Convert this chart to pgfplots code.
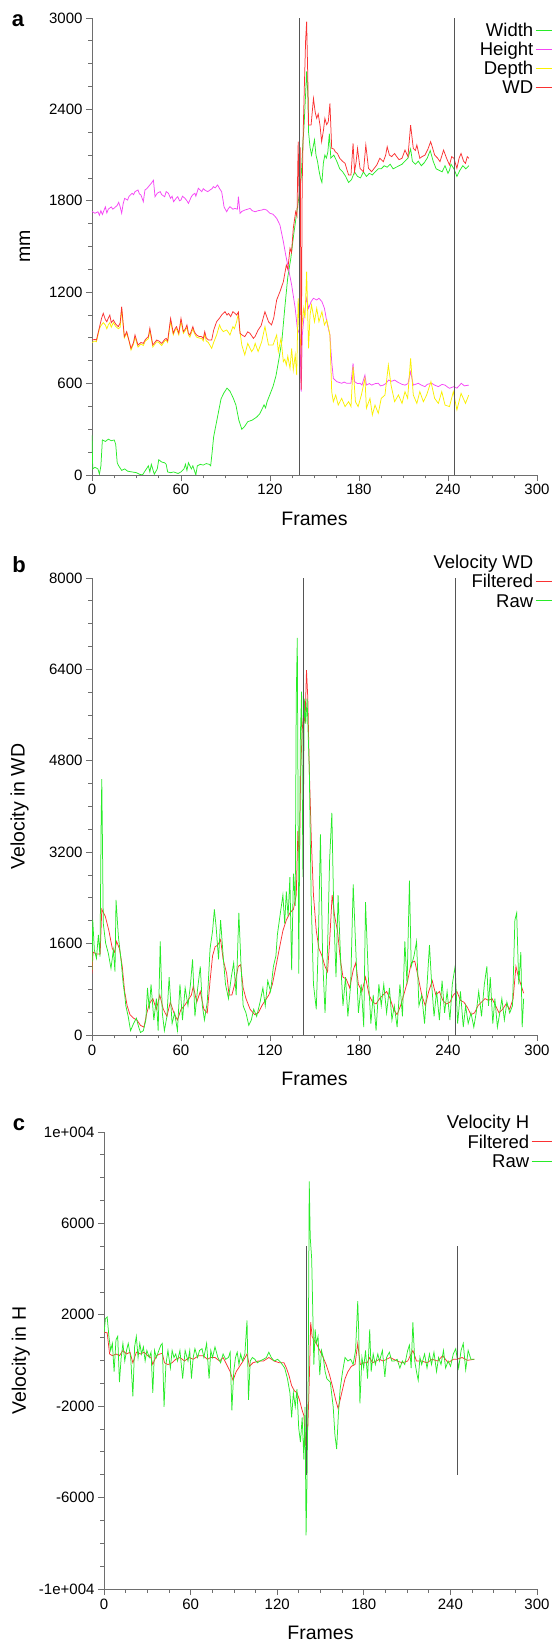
\documentclass[border=0pt]{standalone}
\usepackage{fontspec}
\setmainfont{Liberation Sans}
\usepackage{pgfplots}
\pgfplotsset{compat=1.18}
\definecolor{cW}{RGB}{40,235,40}
\definecolor{cH}{RGB}{245,70,245}
\definecolor{cD}{RGB}{250,240,0}
\definecolor{cWD}{RGB}{250,50,50}
\definecolor{axgray}{RGB}{110,110,110}
\definecolor{vline}{RGB}{85,85,85}
\newcommand{\labfont}{\fontsize{19.5}{20}\selectfont}
\pgfplotsset{
 common/.style={
  scale only axis, height=457pt,
  axis lines=left, axis line style={-, draw=axgray, line width=0.8pt},
  tick align=outside, xtick pos=left, ytick pos=left,
  major tick length=6pt, minor tick length=3.5pt,
  every tick/.style={draw=axgray, line width=0.8pt},
  minor x tick num=3, minor y tick num=3,
  scaled x ticks=false, scaled y ticks=false,
  xmin=0, xmax=300, xtick={0,60,120,180,240,300},
  xticklabels={0,60,120,180,240,300},
  tick label style={font=\fontsize{15}{15}\selectfont, text=black},
  xlabel={Frames},
  every axis x label/.style={at={(axis description cs:0.5,-0.096)}, anchor=center, font=\labfont},
  legend plot pos=right, legend cell align=right,
  legend style={draw=none, fill=none, inner sep=0pt, outer sep=0pt, column sep=2pt,
    font=\fontsize{18.5}{19}\selectfont,
    nodes={inner sep=0pt, text height=13.2pt, text depth=0pt}},
  every axis plot/.append style={line width=0.75pt},
 }
}
\begin{document}
\begin{tikzpicture}
\useasboundingbox (0pt,0pt) rectangle (552pt,1642pt);
% ---------------- panel a ----------------
\begin{axis}[common, width=445pt, at={(92pt,1167pt)}, anchor=south west,
  ymin=0, ymax=3000, ytick={0,600,1200,1800,2400,3000},
  yticklabels={0,600,1200,1800,2400,3000},
  ylabel={mm},
  every axis y label/.style={at={(axis description cs:-0.151,0.5)}, anchor=center, rotate=90, font=\labfont},
  legend style={at={(1.0337,0.9882)}, anchor=north east, row sep=5.8pt},
  legend image code/.code={\draw[#1] (0pt,0pt) -- (16pt,0pt);}]
\addplot[cW] coordinates {(0,260) (0.5,40) (2,50) (4,40) (5,5) (6,60) (7,230) (9,220) (11,235) (13,225) (15,230) (16,200) (17,80) (18,60) (20,30) (22,40) (24,25) (27,20) (30,15) (32,5) (34,0) (36,30) (38,60) (39,20) (40,70) (42,5) (44,40) (45,100) (47,85) (49,80) (50,70) (51,20) (53,15) (55,20) (58,10) (60,20) (62,40) (63,70) (64,30) (65,80) (67,40) (68,60) (70,0) (71,60) (73,70) (75,65) (77,75) (79,70) (80,60) (81,150) (82,250) (83,300) (85,400) (87,500) (89,540) (91,570) (93,550) (95,510) (97,460) (99,360) (101,300) (103,320) (105,350) (108,360) (111,380) (113,400) (115,440) (116,460) (117,440) (118,480) (120,530) (122,580) (124,650) (126,760) (128,880) (130,1100) (132,1300) (134,1420) (136,1580) (138,1720) (140,1860) (141,1950) (142,2150) (143,2300) (144,2500) (144.7,2650) (145.5,2500) (146,2250) (147,2150) (148,2100) (149,2150) (150,2200) (151,2100) (152,2060) (153,2000) (154,1950) (155,1920) (156,2050) (157,2100) (158,2080) (159,2120) (160,2240) (161,2080) (163,2100) (165,2060) (167,2010) (169,1990) (171,1960) (173,1920) (175,1940) (177,1990) (179,1960) (181,1950) (183,1990) (185,1960) (187,1980) (189,1970) (191,1990) (193,2010) (195,2010) (197,2030) (199,2020) (201,2040) (203,2010) (205,2020) (207,2030) (209,2040) (211,2060) (213,2080) (214.8,2140) (216,2060) (218,2040) (220,2060) (222,2030) (224,2050) (226,2080) (228,2130) (230,2060) (232,2010) (234,2000) (236,1990) (238,2030) (240,1980) (241,2000) (242,2040) (244,2010) (246,1960) (248,2000) (250,2030) (252,2010) (254,2030)};
\addlegendentry{Width}
\addplot[cH] coordinates {(0,1730) (2,1718) (4,1728) (5,1705) (6,1735) (7,1710) (9,1760) (10,1720) (11,1745) (13,1760) (14,1745) (15,1752) (17,1770) (18,1790) (19,1760) (20,1718) (21,1780) (22,1816) (24,1805) (25,1830) (27,1849) (28,1840) (29,1860) (31,1871) (32,1845) (33,1838) (34.6,1794) (35.7,1871) (37,1880) (39,1904) (40,1915) (41.4,1935) (42.5,1827) (44,1850) (46,1860) (47,1840) (49,1827) (50,1860) (51.5,1849) (53,1816) (54,1830) (55,1794) (57,1820) (57.8,1827) (59,1800) (60,1805) (61,1830) (62.7,1816) (64,1800) (65,1783) (67,1827) (68,1840) (69.4,1849) (70,1830) (71.7,1882) (73,1870) (74,1860) (75,1880) (76,1871) (78,1860) (79.6,1871) (81,1880) (81.8,1893) (83,1885) (84.7,1904) (86,1880) (87.4,1860) (88.5,1794) (89,1760) (90.8,1728) (92,1750) (93,1761) (95,1745) (96.4,1750) (98,1745) (98.7,1827) (99.8,1718) (101,1730) (103,1739) (105,1745) (106.5,1750) (108,1735) (110,1728) (112,1735) (114.4,1739) (116,1745) (117.8,1739) (120,1718) (122,1712) (124.5,1685) (126.7,1641) (129,1532) (130.6,1444) (132.4,1357) (134.6,1247) (137,1094) (138.4,963) (140.2,919) (141,547) (141.8,919) (143,1050) (144.7,1160) (146,1094) (147.7,1138) (149.3,1160) (151.5,1149) (153,1160) (155,1138) (156.7,1094) (158.3,1006) (160.4,919) (161.6,744) (162.7,634) (165,613) (168.3,602) (170,610) (171.7,602) (174.6,602) (176,733) (177,613) (179,600) (180.7,602) (182,590) (184,656) (185,590) (187,600) (188.5,590) (191,600) (193,602) (194.5,585) (196.4,590) (198,600) (200,623) (202,615) (204,623) (206,610) (207.6,602) (209,595) (211,590) (213,600) (214.8,678) (216.6,590) (218,595) (220,602) (222,590) (224.5,580) (226,595) (229,602) (231,590) (233.5,580) (236,595) (238,590) (240,575) (241,569) (242.5,575) (244,580) (246,570) (249,602) (251,585) (254,590)};
\addlegendentry{Height}
\addplot[cD] coordinates {(0,870) (2,880) (3,875) (5,960) (6,980) (7.6,1000) (9,985) (10,960) (11,985) (12,1000) (13,970) (14.4,1000) (16,975) (17.8,960) (19,970) (20,1090) (21.8,900) (23.4,930) (25,880) (26.3,820) (28,860) (29,905) (31,840) (33,860) (34.6,850) (36,880) (38,895) (39,950) (41,840) (43.6,875) (45,870) (47,850) (49,880) (50,885) (51,870) (53,1010) (54.8,920) (56,950) (57,960) (58.5,920) (60,1010) (61.6,930) (63,950) (64,970) (65,920) (66,905) (68,960) (69,930) (70.5,905) (72,900) (74,895) (75,880) (76,925) (77,880) (78.4,870) (80.7,831) (82,870) (84,919) (86,985) (87,960) (88.5,941) (90.8,952) (92,935) (93,919) (95,974) (96,960) (97.5,1006) (98.7,1061) (99.5,960) (101,853) (103,788) (105,864) (107.6,810) (109,830) (110,864) (112,810) (114.4,875) (116.6,974) (119,853) (122,853) (124.5,919) (125.6,810) (127.4,897) (129,744) (130,760) (131,722) (132,780) (133.5,700) (134.6,831) (135.7,689) (137,788) (138,656) (139,1160) (140.2,831) (141.3,941) (142.5,1094) (143.6,1028) (144.7,1335) (146,831) (147,1050) (148,1116) (150,1006) (151.5,1094) (153,1006) (155,1072) (156.7,985) (158.3,1017) (160.4,919) (161.6,547) (162.7,481) (164.3,525) (166,459) (168.3,503) (170.6,449) (173,481) (174.6,449) (176,711) (177.6,481) (179.4,449) (181.6,525) (184,634) (185,438) (187.4,503) (189,394) (190.8,459) (193,405) (195,503) (197.5,525) (199.8,722) (201.6,590) (204,481) (206.6,525) (209,470) (211,547) (212.8,503) (214.8,766) (216.6,525) (219,470) (221,547) (223.4,481) (225.6,525) (228.5,613) (231,503) (233.5,470) (235.8,547) (238,459) (241,449) (243.6,547) (246,427) (248.8,536) (251.8,470) (254,525)};
\addlegendentry{Depth}
\addplot[cWD] coordinates {(0,886) (2,890) (3,886) (5.4,985) (6.5,1030) (7.6,1061) (9,1020) (10,1006) (11,1030) (12,1050) (13,1000) (14.4,1017) (16,990) (17.8,974) (19,1000) (20,1105) (21.8,908) (23.4,941) (25,880) (26.3,831) (28,870) (29,919) (31,853) (33,870) (34.6,864) (36,890) (38,908) (39,963) (41,853) (43.6,886) (45,880) (47,864) (49,890) (50,897) (51,880) (53,1028) (54.8,930) (56,960) (57,974) (58.5,930) (60,1028) (61.6,941) (63,960) (64,985) (65,930) (66,919) (68,974) (69,940) (70.5,919) (72,910) (74,908) (75,895) (76,941) (77,900) (78.4,886) (80.7,886) (82,950) (84,1006) (86,1030) (87.4,1050) (89.7,1072) (91,1050) (92,1061) (93.5,1040) (95,1072) (96.5,1060) (97.5,1050) (98.7,1070) (99.8,930) (101,920) (103,908) (105,940) (106.5,930) (108.8,897) (110,910) (112,952) (114,980) (116.6,1072) (119,1006) (121,985) (122.5,1030) (124.5,1149) (126.7,1203) (129,1269) (131,1378) (132,1350) (133.5,1488) (134.5,1460) (135.7,1619) (137.3,1728) (138.2,1700) (139,2188) (139.7,1750) (140.4,2150) (141,560) (141.7,1900) (142.5,2300) (143.3,2600) (144,2850) (144.7,2976) (145.5,2600) (146,2297) (147.7,2297) (149.3,2472) (150.5,2380) (151.5,2341) (152.5,2370) (153.7,2297) (154.8,2188) (156,2260) (157,2341) (158.2,2300) (159.3,2319) (160.4,2439) (161.6,2144) (163,2140) (164,2122) (165.5,2110) (167,2079) (168.8,2060) (170.6,2046) (172,2000) (173,1969) (174.6,1969) (176,2177) (177,1991) (178,2050) (179,2144) (180.7,2013) (182,2000) (183,1991) (184.6,2166) (186.4,2013) (188.5,1991) (190,2010) (192,2035) (194,2079) (196.4,2057) (198,2100) (199,2155) (200.5,2100) (202,2090) (204,2110) (205.4,2090) (207,2070) (209,2079) (211,2133) (213,2090) (214.8,2297) (216.6,2144) (218,2130) (219,2166) (221,2079) (222.5,2090) (224.5,2100) (226.5,2140) (228.3,2188) (229.5,2150) (231,2100) (233,2080) (234.6,2057) (236,2100) (237,2133) (239,2080) (241,2035) (242.5,2090) (244,2079) (246,2013) (247.5,2080) (248.8,2111) (250.5,2060) (251.8,2046) (253,2090) (254,2079)};
\addlegendentry{WD}
\addplot[vline, line width=0.8pt, forget plot] coordinates {(140,0) (140,3000)};
\addplot[vline, line width=0.8pt, forget plot] coordinates {(244,0) (244,3000)};
\end{axis}
% ---------------- panel b ----------------
\begin{axis}[common, width=445pt, at={(92pt,607pt)}, anchor=south west,
  ymin=0, ymax=8000, ytick={0,1600,3200,4800,6400,8000},
  yticklabels={0,1600,3200,4800,6400,8000},
  ylabel={Velocity in WD},
  every axis y label/.style={at={(axis description cs:-0.163,0.5)}, anchor=center, rotate=90, font=\labfont},
  legend style={at={(1.0337,1.0506)}, anchor=north east, row sep=6.3pt},
  legend image code/.code={\draw[#1] (0pt,0pt) -- (16pt,0pt);}]
\addlegendimage{empty legend}
\addlegendentry{Velocity WD}
\addplot[cWD] coordinates {(0,1075) (0.7,1450) (3,1419) (5.5,1419) (6.6,2200) (9,2075) (11.4,1825) (13.7,1512) (15.2,1450) (16.6,1637) (18.5,1512) (20.4,1200) (22,762) (23.7,512) (25.6,356) (28,294) (30.3,262) (32.7,169) (35,137) (37,387) (38.6,544) (41,637) (43.4,450) (45.7,700) (48.1,450) (50.5,325) (52.8,575) (55.2,387) (57.6,262) (60,450) (62.3,512) (64.7,606) (67,700) (68.3,856) (70.6,575) (73,762) (75.4,450) (77.7,387) (79.6,950) (81.3,1387) (83,1544) (84.8,1575) (86.7,1669) (88.4,1325) (90.8,1075) (92.4,700) (94.3,700) (96.2,887) (98.6,1200) (100.2,1231) (101.9,825) (103.8,637) (106.6,450) (109.7,356) (112.1,387) (114.5,512) (116.8,606) (119.2,700) (121.6,887) (124,1200) (126.3,1512) (128.7,1825) (131,2012) (133.4,2137) (135.8,2200) (137.7,2450) (138.8,3575) (139.8,3012) (140.7,4637) (141.7,5325) (142.6,5637) (143.6,5450) (144.6,6387) (145.5,5887) (146.5,4637) (147.9,3387) (149.3,2450) (151.2,1825) (153,1512) (155,1387) (157.1,1200) (158.8,1106) (160.2,1637) (161.9,2450) (163.6,2075) (165.5,1825) (167.4,1325) (169.2,1012) (171.4,981) (173.7,825) (176.1,1137) (177.8,1262) (179.6,887) (182,762) (184.4,1012) (186.8,700) (189.1,575) (191.5,544) (193.9,637) (196.2,700) (198.6,762) (201,637) (203.3,450) (205.7,356) (208,512) (210.5,731) (212.8,950) (215.2,1262) (217.6,1294) (219.9,1012) (222.3,700) (224.7,512) (227,762) (229.4,950) (231.8,700) (234.2,762) (236.5,606) (238.9,544) (241.3,575) (243.6,700) (246,762) (248.4,606) (250.7,575) (253.1,481) (255.5,356) (257.9,387) (260.2,512) (262.6,575) (265,637) (267.3,606) (269.7,637) (272.1,512) (274.4,387) (276.8,450) (279.2,544) (281.6,450) (283.9,637) (285.8,1200) (287.5,1012) (289.1,887) (291,731)};
\addlegendentry{Filtered}
\addplot[cW] coordinates {(0,1138) (0.5,2013) (1.6,1488) (3,1342) (4.3,1750) (5.4,1371) (6.2,3822) (6.6,4481) (7,3500) (7.6,1955) (9.2,1605) (11,1430) (12.8,1167) (14.4,1488) (15.5,1109) (16.2,2363) (17.8,1721) (19.6,1313) (21,904) (22.2,671) (22.8,512) (24.4,325) (26,75) (28,200) (29.9,294) (31.5,137) (32.7,44) (34.6,75) (36.3,262) (37.4,825) (38.6,450) (39.8,887) (41.7,262) (43.4,637) (44.6,75) (46,1637) (47.4,387) (48.8,75) (50.5,325) (52,1012) (54,200) (55.7,387) (57.6,75) (59.3,887) (61,262) (62.8,825) (64.7,512) (66.4,887) (67.8,1325) (69.4,325) (71,762) (73,1200) (74.4,512) (75.8,262) (77.7,575) (79.6,1512) (81.3,1825) (82.5,2200) (83.7,1887) (85.3,1325) (86.7,2012) (88.4,1387) (90,887) (92,637) (93.9,1012) (95.5,1262) (97.2,700) (99,2137) (100.5,1200) (101.9,512) (103.8,387) (105.7,169) (107.4,262) (109,450) (111,325) (113.3,575) (115.2,825) (116.8,512) (118.5,950) (120.4,762) (122.3,1200) (124,1387) (125,1762) (127,2137) (128.7,2450) (129.9,1950) (131,2512) (132.2,2075) (133.4,2762) (134.6,1137) (135.8,2825) (137,2262) (137.7,5887) (138.4,6950) (139.4,1075) (140.5,5262) (141.3,6012) (142.2,2762) (143.1,5887) (144.1,5450) (145,5887) (146.5,4637) (147.7,2450) (149.3,887) (151.2,450) (152.6,1637) (154,3512) (155.5,1325) (157.1,387) (158.8,1512) (160.2,3075) (161.7,3887) (163,2137) (164.5,1012) (165.9,2450) (167.8,1200) (169.2,512) (170.9,1012) (172.5,325) (174.4,887) (176.1,2637) (177.8,1512) (179.6,387) (181.5,887) (183.2,137) (184.4,2325) (186.3,1012) (188,200) (189.6,700) (191.5,75) (193.4,887) (195,512) (196.7,887) (198.6,387) (200.5,825) (202.2,262) (203.8,512) (205.7,137) (207.6,887) (209.3,325) (210.9,1637) (212.4,887) (214,2700) (215.2,1200) (217.1,1387) (218.8,1637) (220.4,512) (222.3,700) (224.2,200) (225.9,887) (227.5,1575) (229,887) (230.6,325) (232.3,762) (234.2,262) (236,950) (237.7,387) (239.4,762) (241.3,262) (242.9,887) (244.8,1200) (246.5,200) (248.4,762) (250.3,137) (251.9,512) (253.6,200) (255.5,387) (257.4,137) (259,387) (260.7,762) (262.6,325) (264.5,887) (266.2,1200) (267.3,512) (268.5,1012) (270.2,200) (271.6,637) (273.3,137) (274.9,387) (276.3,637) (278,262) (279.7,575) (281.6,387) (283.5,512) (285.1,2012) (286.3,2137) (287.7,887) (289.1,1450) (290,137) (291,637)};
\addlegendentry{Raw}
\addplot[vline, line width=0.8pt, forget plot] coordinates {(142.5,0) (142.5,8000)};
\addplot[vline, line width=0.8pt, forget plot] coordinates {(244.7,0) (244.7,8000)};
\end{axis}
% ---------------- panel c ----------------
\begin{axis}[common, width=433pt, at={(104pt,53pt)}, anchor=south west,
  ymin=-10000, ymax=10000, ytick={-10000,-6000,-2000,2000,6000,10000},
  yticklabels={-1e+004,-6000,-2000,2000,6000,1e+004},
  ylabel={Velocity in H},
  every axis y label/.style={at={(axis description cs:-0.192,0.5)}, anchor=center, rotate=90, font=\labfont},
  legend style={at={(1.0346,1.0363)}, anchor=north east, row sep=6.3pt},
  legend image code/.code={\draw[#1] (0pt,0pt) -- (20pt,0pt);}]
\addlegendimage{empty legend}
\addlegendentry{Velocity H}
\addplot[cWD] coordinates {(0,1241) (2.2,1210) (3.9,285) (5.8,208) (8.3,285) (10.7,208) (13.1,440) (15.6,285) (18,363) (20,-100) (22.4,363) (25.3,285) (27.8,363) (30.2,208) (32.6,131) (33.8,-177) (36.3,208) (38.7,285) (40.4,316) (41.9,-100) (44.3,-177) (47.2,-100) (49.7,54) (52.6,131) (55.8,-23) (58.9,131) (61.8,54) (65.5,208) (68.7,208) (71.6,54) (74,131) (76.9,131) (80.1,-23) (82.5,131) (85,-177) (87.4,-486) (89.4,-871) (91.6,-486) (94,-254) (96.4,-23) (99.1,285) (100.8,-254) (103.2,-100) (106.9,-23) (110.5,-23) (114.2,131) (117.9,-23) (121.5,-100) (124.7,-100) (126.4,-331) (128.1,-640) (130,-1102) (132,-1334) (133.7,-1411) (135.4,-1719) (137.3,-2182) (138.5,-2413) (139.7,-3724) (140.5,-2799) (141.2,-2953) (142.2,-949) (143.2,1673) (144.2,1056) (145.4,902) (147.1,748) (149.5,440) (151.9,131) (153.9,-177) (156.3,-640) (158.8,-1257) (160.5,-1719) (162.2,-2105) (163.6,-1719) (165.3,-1257) (167,-794) (169,-486) (171.4,-254) (173.9,-177) (175.8,748) (177.5,-177) (179.9,-100) (182.4,-100) (184.1,131) (186,-100) (188.5,-23) (190.9,54) (193.3,-23) (195.8,54) (198.2,131) (200.6,54) (203.1,-23) (206.7,-100) (210.4,-23) (214,440) (216.5,-23) (220.1,-23) (223.8,-100) (227.4,54) (231.1,-23) (234.7,208) (238.4,-100) (242,54) (244.5,54) (248.1,131) (251.8,8) (256.6,54)};
\addlegendentry{Filtered}
\addplot[cW] coordinates {(0,1210) (1,1827) (2.2,1905) (3.4,1056) (4.6,440) (5.8,748) (7,-486) (8.3,902) (9.5,1056) (10.7,-949) (11.9,131) (13.1,748) (14.4,-23) (15.6,440) (16.8,748) (18.5,131) (20,-1565) (21.2,594) (22.4,1056) (23.6,131) (24.8,748) (26,285) (27.3,594) (28.5,-23) (29.7,440) (31.4,131) (32.6,363) (33.8,-1411) (35,440) (36.3,131) (38,440) (39.4,671) (40.4,748) (41.6,-2028) (42.9,-177) (44.3,440) (46,-331) (47.2,440) (48.5,131) (49.7,285) (50.9,-23) (52.6,440) (54.5,-794) (56.2,440) (58.2,-23) (59.4,440) (60.6,-794) (61.8,131) (63,517) (64.8,131) (66.2,440) (67.9,517) (69.2,131) (71.1,748) (72.8,-794) (74,440) (75.2,131) (76.9,594) (78.9,131) (80.8,-100) (82.5,285) (84.3,54) (86.2,131) (87.4,363) (88.6,-2182) (89.9,-486) (91.1,131) (92.3,363) (93.5,-177) (94.7,285) (95.9,-23) (97.6,285) (99.1,1750) (100.1,-1719) (101.3,-23) (102.8,131) (104.5,54) (106.2,-100) (108.1,-23) (110.5,54) (112.5,131) (114.2,363) (115.9,131) (117.9,-23) (120.3,54) (122.7,-100) (125.2,-331) (127.1,-794) (128.8,-1411) (130,-2490) (131.2,-1411) (132.5,-2028) (133.7,-1257) (134.9,-2953) (136.1,-3570) (137.3,-2490) (138.5,-4341) (139.3,-2028) (140,-7656) (140.7,-5112) (141.5,-486) (142.2,7841) (142.9,5374) (143.9,4449) (144.6,2290) (145.4,-177) (146.3,1365) (147.1,748) (148.3,1056) (149.5,-640) (150.7,440) (151.9,131) (153.2,-486) (154.4,-794) (156.8,-949) (158.8,-2028) (160,-3261) (161.2,-3878) (162.4,-2336) (163.6,-1257) (165.3,-486) (167,131) (169,-23) (170.9,54) (172.6,-177) (174.3,440) (175.8,2598) (176.5,1210) (177.3,-1873) (178.7,131) (179.9,-331) (181.2,440) (182.6,-794) (184.1,1365) (185.1,-486) (186.5,285) (188,-177) (189.7,285) (190.9,-23) (192.9,440) (194.6,-717) (195.8,131) (197.7,363) (199.4,-23) (201.1,-23) (203.1,54) (205,-331) (206.7,-23) (208.4,-177) (210.4,440) (211.6,671) (212.8,-331) (214,1673) (215.3,-23) (216.5,-486) (217.7,-871) (218.9,131) (220.1,-177) (222.1,285) (223.8,-331) (225.5,285) (226.9,-177) (228.6,363) (230.4,-486) (231.8,131) (233.5,-177) (235.2,440) (236.7,-331) (238.4,-23) (240.1,-254) (242,285) (243.7,517) (245.7,-331) (247.4,440) (248.9,748) (250.6,-409) (252.3,440) (254.2,54) (256.6,54)};
\addlegendentry{Raw}
\addplot[vline, line width=0.8pt, forget plot] coordinates {(140.4,-5000) (140.4,5000)};
\addplot[vline, line width=0.8pt, forget plot] coordinates {(245,-5000) (245,5000)};
\end{axis}
\node[font=\bfseries\fontsize{22}{22}\selectfont, anchor=base] at (18pt,1615pt) {a};
\node[font=\bfseries\fontsize{22}{22}\selectfont, anchor=base] at (19pt,1069pt) {b};
\node[font=\bfseries\fontsize{22}{22}\selectfont, anchor=base] at (19pt,511pt) {c};
\end{tikzpicture}
\end{document}
